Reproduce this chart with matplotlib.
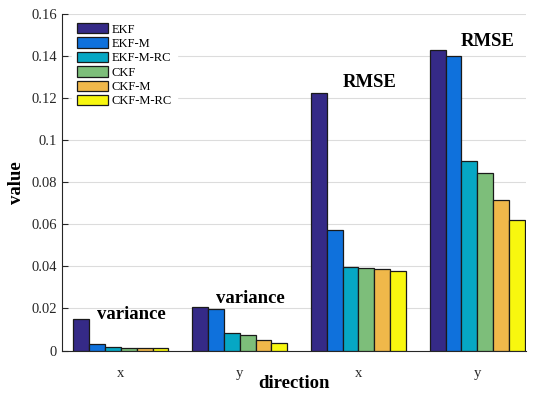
import matplotlib
matplotlib.use("Agg")
import matplotlib.pyplot as plt
import numpy as np

plt.rcParams['font.family'] = ['Liberation Serif', 'DejaVu Serif']

groups = ['x', 'y', 'x', 'y']
methods = ['EKF', 'EKF-M', 'EKF-M-RC', 'CKF', 'CKF-M', 'CKF-M-RC']
colors = ['#352a87', '#0f71dc', '#06a7c4', '#7dbe7a', '#f0b84a', '#f8f70f']

# rows: methods, cols: groups (x var, y var, x rmse, y rmse)
ekf      = [0.0152, 0.0205, 0.1225, 0.1429]
ekf_m    = [0.0032, 0.0195, 0.0575, 0.1401]
ekf_m_rc = [0.0015, 0.0082, 0.0397, 0.0903]
ckf      = [0.0013, 0.0072, 0.0391, 0.0844]
ckf_m    = [0.0013, 0.0050, 0.0386, 0.0715]
ckf_m_rc = [0.0013, 0.0037, 0.0376, 0.0620]
values = [ekf, ekf_m, ekf_m_rc, ckf, ckf_m, ckf_m_rc]

annot_text = ['variance', 'variance', 'RMSE', 'RMSE']
annot_y = [0.0148, 0.0224, 0.1252, 0.1448]

fig = plt.figure(figsize=(5.33, 3.94), dpi=100)
ax = fig.add_axes([61.5/533, 1-350.5/394, (526-61.5)/533, (350.5-14)/394])

x = np.arange(1, 5)
w = 0.8 / 6
for i, (m, v) in enumerate(zip(methods, values)):
    ax.bar(x + (i - 2.5) * w, v, width=w, color=colors[i], edgecolor='#1a1a1a',
           linewidth=0.9, label=m, zorder=3)

for xi, t, yv in zip(x, annot_text, annot_y):
    ax.text(xi + 0.09, yv, t, ha='center', va='baseline', fontsize=13.5,
            fontweight='bold', zorder=4)

ax.set_xlim(0.5, 4.41)
ax.set_ylim(0, 0.16)
ax.set_yticks(np.arange(0, 0.161, 0.02))
ax.set_yticklabels(['0', '0.02', '0.04', '0.06', '0.08', '0.1', '0.12', '0.14', '0.16'])
ax.set_xticks(x)
ax.set_xticklabels(groups)
ax.tick_params(axis='y', direction='in', length=4, labelsize=10.5, colors='#262626')
ax.tick_params(axis='x', length=0, labelsize=10.5, colors='#262626', pad=12)
ax.grid(axis='y', color='#dcdcdc', linewidth=0.8, zorder=0)
ax.spines['top'].set_visible(False)
ax.spines['right'].set_visible(False)
ax.spines['left'].set_color('#262626')
ax.spines['bottom'].set_color('#262626')

ax.set_xlabel('direction', fontsize=13.5, fontweight='bold', labelpad=-4)
ax.set_ylabel('value', fontsize=13.5, fontweight='bold', labelpad=4)

leg = ax.legend(loc='upper left', fontsize=9, frameon=True, fancybox=False,
                handlelength=2.5, handleheight=0.9, labelspacing=0.15,
                handletextpad=0.3, borderpad=0.4, borderaxespad=0,
                bbox_to_anchor=(0.0226, 0.988))
leg.get_frame().set_edgecolor('white')
leg.get_frame().set_facecolor('white')
leg.get_frame().set_alpha(1)

fig.savefig('out.png', dpi=100)
